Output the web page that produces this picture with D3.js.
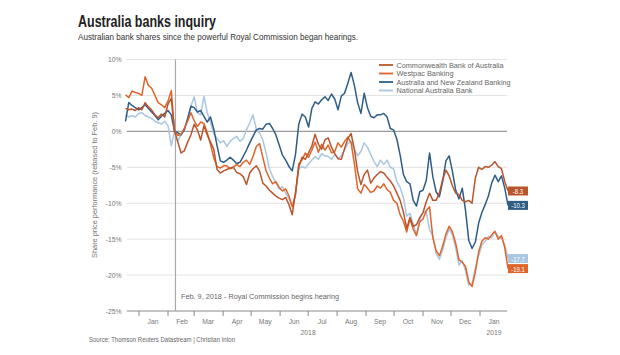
<!DOCTYPE html>
<html><head><meta charset="utf-8">
<script src="https://cdn.jsdelivr.net/npm/d3@7"></script>
<style>body{margin:0;background:#fff}svg{display:block}text{font-family:"Liberation Sans",Arial,sans-serif}</style>
</head><body><svg id="c" width="620" height="355"></svg>
<script>
const seriesNames = ["Commonwealth Bank of Australia","Westpac Banking","Australia and New Zealand Banking","National Australia Bank"];
const cba = [3.2,3.0,3.1,2.9,3.3,3.0,4.0,3.4,3.0,2.3,1.9,2.4,2.0,3.8,4.6,0,
-1.5,-3.0,-2.7,-1.5,-0.5,1.0,0.2,-1.2,0.8,-0.5,-1.5,-2.5,-5.3,-5.8,-5.5,-5.3,-5.1,-5.0,-5.7,-5.9,-6.3,-7.4,-5.8,-5.2,
-4.8,-5.5,-7.2,-7.6,-8.2,-8.6,-9.0,-9.3,-9.5,-9.2,-10.2,-11.6,-8.5,-5.0,-3.6,-3.9,-3.0,-2.0,-0.4,-1.8,-2.5,-1.2,-0.9,-2.2,-3.1,-3.8,-3.9,-2.4,-1.0,-0.3,-2.5,-5.6,-7.4,-6.0,-5.4,-7.2,-6.5,-6.0,
-5.6,-5.8,-6.4,-6.9,-7.6,-8.6,-9.6,-11.2,-13.5,-12.0,-13.2,-13.0,-12.0,-11.3,-9.8,-8.6,-9.6,-9.6,-8.6,-6.7,-5.4,-6.2,-7.6,-8.6,-8.8,-9.6,-9.8,-9.6,-10.0,-6.5,-5.0,-5.3,-4.9,-5.0,-4.7,-4.2,-4.9,-5.2,-7.0,-8.3];
const westpac = [5.1,4.7,5.6,5.4,5.3,5.0,7.6,6.4,6.0,5.0,4.0,3.7,3.3,4.2,5.7,0,
-0.6,-0.4,0.4,1.4,2.6,1.5,0.7,1.3,1.1,-0.2,-1.8,-3.7,-4.9,-5.1,-4.8,-4.8,-5.2,-5.0,-4.6,-4.9,-4.3,-4.0,-4.6,-3.5,
-2.1,-1.7,-3.6,-5.5,-6.5,-7.3,-7.0,-7.8,-8.3,-8.0,-9.0,-10.5,-8.8,-4.5,-4.0,-3.0,-3.6,-2.6,-1.5,-2.9,-1.8,-2.6,-1.9,-3.0,-2.8,-1.6,-2.2,-1.4,-0.8,-1.6,-4.5,-8.0,-8.6,-7.4,-7.9,-8.5,-8.3,-7.6,
-7.9,-7.3,-8.1,-8.5,-9.6,-10.0,-11.6,-12.5,-14.0,-12.2,-13.6,-14.5,-12.6,-12.2,-11.0,-10.5,-14.8,-16.6,-17.3,-16.0,-14.3,-13.2,-14.0,-15.6,-17.9,-18.2,-18.8,-21.0,-21.6,-19.6,-16.8,-15.3,-14.8,-15.0,-14.4,-13.9,-15.0,-14.5,-16.2,-19.1];
const anz = [1.4,4.0,3.6,3.3,3.0,3.3,3.7,3.2,2.7,2.2,1.6,2.1,2.5,2.9,2.3,0,
-0.2,-0.5,0.2,1.8,3.5,3.3,2.7,2.9,2.1,1.3,2.0,0.3,-2.0,-4.1,-4.3,-4.0,-3.6,-4.0,-4.5,-4.3,-3.5,-2.6,-1.6,-0.7,
0.2,0.4,0.3,1.0,1.1,0.4,-0.5,-1.9,-3.3,-4.0,-4.9,-5.5,-3.2,1.0,2.4,2.0,0.6,3.2,4.1,3.8,4.4,4.8,4.3,5.2,4.5,3.0,4.9,5.3,6.7,8.2,6.4,4.0,2.5,5.3,3.3,2.1,1.9,2.3,
2.3,2.5,2.0,0.4,0.2,-1.1,-3.3,-6.0,-7.0,-7.3,-9.6,-10.4,-8.4,-8.2,-6.8,-3.0,-6.3,-8.4,-9.1,-7.0,-4.1,-3.4,-5.6,-8.2,-9.4,-7.9,-11.0,-15.2,-16.3,-15.4,-12.8,-11.3,-10.2,-9.0,-7.2,-6.1,-7.0,-6.2,-7.9,-10.3];
const nab = [2.3,2.0,2.2,2.0,2.5,2.6,2.2,2.0,1.8,1.4,1.2,1.0,1.4,0.8,-2.0,0,
-1.4,-0.4,0.5,1.6,3.5,4.8,2.6,2.3,4.9,2.6,1.2,-0.3,-1.0,-1.6,-1.3,-2.1,-1.4,-1.0,-0.7,-1.4,-1.0,0.2,1.2,2.3,
0.3,-0.2,-1.2,-3.0,-5.2,-6.3,-7.2,-8.0,-7.7,-8.6,-9.4,-10.4,-8.8,-5.2,-4.9,-5.1,-4.5,-4.0,-3.5,-3.9,-3.1,-3.4,-3.5,-3.9,-3.2,-3.8,-3.4,-2.6,-1.7,-1.4,-2.5,-3.4,-2.8,-1.6,-2.2,-3.2,-4.2,-4.9,
-4.0,-4.6,-4.0,-5.0,-5.2,-7.0,-7.8,-9.2,-11.8,-11.4,-12.9,-14.4,-12.3,-11.3,-11.2,-13.7,-14.5,-17.0,-17.8,-16.5,-14.8,-13.6,-14.4,-16.2,-18.6,-18.0,-19.4,-21.4,-21.2,-19.0,-17.3,-15.8,-15.3,-14.6,-14.8,-14.0,-14.6,-14.9,-15.8,-17.7];
const endLabels = ["-8.3","-19.1","-10.3","-17.7"];
const colors = ["#b9552c","#e0652b","#2f5d86","#a9c7e3"];
const yTicks = [10,5,0,-5,-10,-15,-20,-25];
const yTickLabels = ["10%","5%","0%","-5%","-10%","-15%","-20%","-25%"];
const monthLabels = ["Jan","Feb","Mar","Apr","May","Jun","Jul","Aug","Sep","Oct","Nov","Dec","Jan"];
const yearLabels = [{t:"2018", d:new Date(2018,6,1)},{t:"2019", d:new Date(2019,0,16)}];
const startDate = new Date(2017,11,17,12);
const stepHours = 84;
const eventDate = new Date(2018,1,9);

const svg = d3.select("#c");
const x = d3.scaleTime().domain([new Date(2017,11,19), new Date(2019,0,30)]).range([126.9, 507.1]);
const y = d3.scaleLinear().domain([-25,10]).range([311,59.5]);
const dates = d3.range(cba.length).map(i => d3.timeHour.offset(startDate, i*stepHours));

function txt(g, xx, yy, s, opt){
  const t = g.append("text").attr("x",xx).attr("y",yy).text(s)
    .attr("font-size",opt.size).attr("fill",opt.fill||"#555")
    .attr("text-anchor",opt.anchor||"start");
  if(opt.weight) t.attr("font-weight",opt.weight);
  if(opt.len){ t.attr("textLength",opt.len).attr("lengthAdjust","spacingAndGlyphs"); }
  if(opt.sx){ t.attr("transform",`translate(${xx},${yy}) scale(${opt.sx},1) translate(${-xx},${-yy})`); }
  if(opt.base) t.attr("dominant-baseline",opt.base);
  return t;
}

// title
txt(svg,78,27,"Australia banks inquiry",{size:16,weight:"bold",fill:"#222",len:138});
txt(svg,78,39.5,"Australian bank shares since the powerful Royal Commission began hearings.",{size:9.5,fill:"#333",len:280});

// grid
const grid = svg.append("g");
yTicks.forEach((t,i)=>{
  grid.append("line").attr("x1",126.9).attr("x2",507.1).attr("y1",y(t)).attr("y2",y(t))
    .attr("stroke", t===0 ? "#9a9a9a" : (t===-25 ? "#8a8a8a" : "#e2e2e2"))
    .attr("stroke-width", t===0 ? 1.3 : 1);
  txt(svg,121.5,y(t),yTickLabels[i],{size:8,fill:"#777",anchor:"end",sx:0.85,base:"central"});
});

// y title
svg.append("text").attr("transform","translate(94,185) rotate(-90)")
  .attr("text-anchor","middle").attr("dominant-baseline","central")
  .attr("font-size",8).attr("fill","#777").attr("textLength",146).attr("lengthAdjust","spacingAndGlyphs")
  .text("Share price performance (rebased to Feb. 9)");

// x axis ticks
const months = d3.timeMonth.range(new Date(2018,0,1), new Date(2019,0,2));
months.forEach(m=>{
  svg.append("line").attr("x1",x(m)).attr("x2",x(m)).attr("y1",311).attr("y2",316).attr("stroke","#888");
});
months.forEach((m,i)=>{
  const mid = new Date(m.getFullYear(), m.getMonth(), 16);
  txt(svg,x(mid),324.5,monthLabels[i],{size:8,fill:"#777",anchor:"middle",sx:0.85});
});
yearLabels.forEach(l=> txt(svg,x(l.d),335,l.t,{size:8,fill:"#777",anchor:"middle",sx:0.85}));

// event line
svg.append("line").attr("x1",x(eventDate)).attr("x2",x(eventDate)).attr("y1",59.5).attr("y2",311)
  .attr("stroke","#a8a8a8").attr("stroke-width",1.2);
txt(svg,181,299,"Feb. 9, 2018 - Royal Commission begins hearing",{size:8,fill:"#666",len:158});

// lines
const allSeries = [cba, westpac, anz, nab];
const line = d3.line().x((d,i)=>x(dates[i])).y(d=>y(d));
[3,2,1,0].forEach(k=>{
  svg.append("path").datum(allSeries[k]).attr("d",line).attr("fill","none")
    .attr("stroke",colors[k]).attr("stroke-width",1.5).attr("stroke-linejoin","round");
});

// end labels
allSeries.forEach((s,k)=>{
  const v = s[s.length-1];
  svg.append("rect").attr("x",508).attr("y",y(v)-4.5).attr("width",20).attr("height",9).attr("fill",colors[k]);
  txt(svg,518,y(v)+0.3,endLabels[k],{size:7,fill:"#fff",anchor:"middle",base:"central",sx:0.85});
});

// legend
const legLens = [107,57,114,76];
seriesNames.forEach((n,k)=>{
  const yy = 65 + k*8.5;
  svg.append("line").attr("x1",379).attr("x2",393).attr("y1",yy).attr("y2",yy).attr("stroke",colors[k]).attr("stroke-width",1.8);
  txt(svg,396.5,yy,n,{size:8,fill:"#666",base:"central",len:legLens[k]});
});

// source
txt(svg,89,342,"Source: Thomson Reuters Datastream | Christian Inton",{size:7,fill:"#666",len:146});
</script></body></html>
